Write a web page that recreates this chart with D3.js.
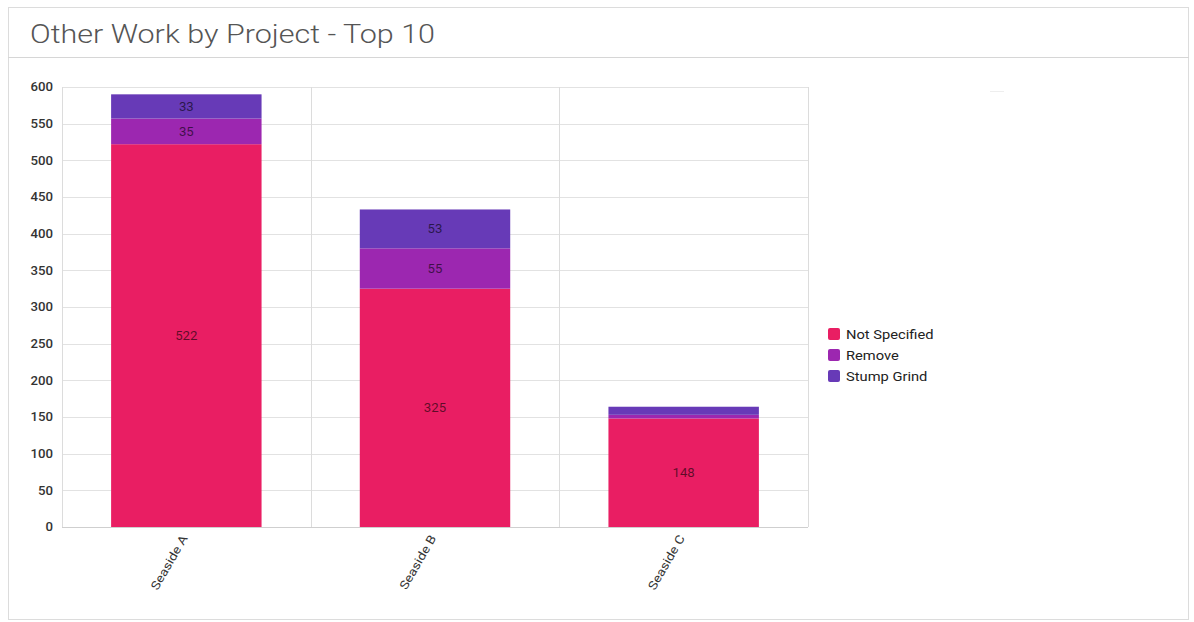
<!DOCTYPE html>
<html><head><meta charset="utf-8">
<script src="https://cdn.jsdelivr.net/npm/d3@7"></script>
<style>
body{margin:0;background:#fff;font-family:Roboto,"Open Sans",sans-serif;}
</style></head>
<body>
<svg id="c" width="1194" height="622"></svg>
<script>
const categories = ["Seaside A","Seaside B","Seaside C"];
const seriesNames = ["Not Specified","Remove","Stump Grind"];
const notSpecified = [522,325,148];
const remove = [35,55,5];
const stumpGrind = [33,53,11];
const yTicks = [0,50,100,150,200,250,300,350,400,450,500,550,600];
const colors = ["#e91e63","#9c27b0","#673ab7"];

const svg = d3.select("#c");
function stretch(sel, f){ sel.each(function(){ const w=this.getComputedTextLength(); d3.select(this).attr("textLength",w*f).attr("lengthAdjust","spacingAndGlyphs"); }); }

// card
svg.append("rect").attr("x",8.5).attr("y",7.5).attr("width",1180).attr("height",612)
  .attr("fill","#fff").attr("stroke","#dcdcdc");
svg.append("line").attr("x1",8).attr("x2",1189).attr("y1",57.5).attr("y2",57.5).attr("stroke","#d6d6d6");
svg.append("text").attr("x",30).attr("y",43).attr("font-size",25).attr("fill","#555")
  .attr("font-weight",300).attr("textLength",405).attr("lengthAdjust","spacingAndGlyphs")
  .text("Other Work by Project - Top 10");

const L=62,R=808,T=87,B=527;
const x = d3.scaleBand().domain(categories).range([L,R]).padding(0);
const y = d3.scaleLinear().domain([0,600]).range([B,T]);

const g = svg.append("g");
// grid
g.selectAll(".hg").data(yTicks).join("line")
  .attr("x1",L).attr("x2",R).attr("y1",d=>Math.round(y(d))+0.5).attr("y2",d=>Math.round(y(d))+0.5)
  .attr("stroke","#e2e2e2");
const bounds = categories.map(c=>x(c)).concat([R]);
g.selectAll(".vg").data(bounds).join("line")
  .attr("x1",d=>Math.round(d)+0.5).attr("x2",d=>Math.round(d)+0.5).attr("y1",T).attr("y2",B)
  .attr("stroke","#dcdcdc");
g.append("line").attr("x1",L).attr("x2",R).attr("y1",B+0.5).attr("y2",B+0.5).attr("stroke","#cfcfcf");

// y axis
const yAxis = d3.axisLeft(y).tickValues(yTicks).tickSize(0).tickPadding(9);
const ya = svg.append("g").attr("transform",`translate(${L},0)`).call(yAxis);
ya.select(".domain").remove();
ya.selectAll("text").attr("font-size",12).attr("fill","#333").attr("font-weight",500).attr("font-family","Roboto,sans-serif");
stretch(ya.selectAll("text"),1.1);

// x axis
const xAxis = d3.axisBottom(x).tickSize(0).tickPadding(8);
const xa = svg.append("g").attr("transform",`translate(0,${B})`).call(xAxis);
xa.select(".domain").remove();
xa.selectAll("text").attr("font-size",12).attr("fill","#333").attr("font-family","Roboto,sans-serif")
  .attr("text-anchor","end").attr("dy","0.35em")
  .attr("transform","translate(-9,5) rotate(-60)");
stretch(xa.selectAll("text"),1.15);

// stacked data
const rows = categories.map((c,i)=>({cat:c,"Not Specified":notSpecified[i],"Remove":remove[i],"Stump Grind":stumpGrind[i]}));
const stack = d3.stack().keys(seriesNames)(rows);
const bw = x.bandwidth()*0.605;
stack.forEach((s,si)=>{
  const gg = svg.append("g");
  gg.selectAll("rect").data(s).join("rect")
    .attr("x",d=>x(d.data.cat)+(x.bandwidth()-bw)/2)
    .attr("width",bw)
    .attr("y",d=>y(d[1]))
    .attr("height",d=>y(d[0])-y(d[1]))
    .attr("fill",colors[si]);
  const t = gg.selectAll("text").data(s.filter(d=>y(d[0])-y(d[1])>16)).join("text")
    .attr("x",d=>x(d.data.cat)+x.bandwidth()/2)
    .attr("y",d=>(y(d[0])+y(d[1]))/2)
    .attr("dy","0.35em").attr("text-anchor","middle")
    .attr("font-size",12).attr("fill","#000").attr("fill-opacity",0.6)
    .text(d=>d[1]-d[0]);
  stretch(t,1.1);
});

// legend
const lg = svg.append("g").attr("transform","translate(828,328)");
seriesNames.forEach((n,i)=>{
  lg.append("rect").attr("x",0).attr("y",i*21).attr("width",12).attr("height",12).attr("rx",2)
    .attr("fill",colors[i]);
  const t = lg.append("text").attr("x",18).attr("y",i*21+6).attr("dy","0.35em")
    .attr("font-size",13).attr("fill","#222").text(n);
  stretch(t,1.13);
});
// tiny faint mark
svg.append("line").attr("x1",990).attr("x2",1004).attr("y1",91.5).attr("y2",91.5).attr("stroke","#eee");
</script>
</body></html>
